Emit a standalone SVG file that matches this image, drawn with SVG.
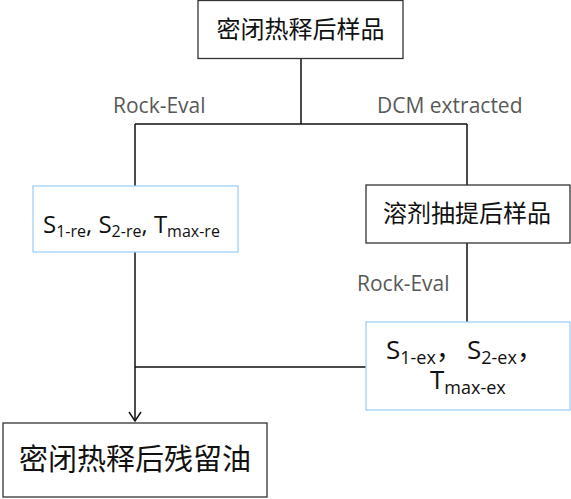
<svg xmlns="http://www.w3.org/2000/svg" width="571" height="499" viewBox="0 0 571 499">
<style>
.box{fill:#fff;stroke:#333;stroke-width:1.3}
.bbox{fill:#fff;stroke:#9dd0f5;stroke-width:1.3}
.cjk{font-family:"Noto Sans CJK SC","Noto Sans",sans-serif;fill:#111}
.lat{font-family:"Open Sans","Noto Sans",sans-serif;fill:#111}
.lbl{font-family:"Open Sans","Noto Sans",sans-serif;fill:#595959;font-size:21px}
.ln{fill:none;stroke:#111;stroke-width:1.5}
</style>
<defs>
<marker id="arr" markerWidth="14" markerHeight="14" refX="12" refY="7" orient="auto" markerUnits="userSpaceOnUse" viewBox="0 0 14 14">
<path d="M3,1 L12,7 L3,13" fill="none" stroke="#111" stroke-width="1.5"/>
</marker>
</defs>
<g id="connectors">
<path class="ln" d="M301,59 V124 M135,124 H467 M135,124 V186 M467,124 V185 M467,243 V322 M135,367 H366"/>
<path class="ln" d="M135,252 V421" marker-end="url(#arr)"/>
</g>
<g id="labels">
<text class="lbl" x="113" y="113">Rock-Eval</text>
<text class="lbl" x="377" y="113">DCM extracted</text>
<text class="lbl" x="357" y="291">Rock-Eval</text>
</g>
<g id="n1">
<rect class="box" x="198" y="0.5" width="205" height="58"/>
<text class="cjk" x="300.5" y="38" font-size="24" text-anchor="middle">密闭热释后样品</text>
</g>
<g id="n2">
<rect class="bbox" x="33" y="186" width="205" height="66"/>
<text class="lat" x="43" y="233" font-size="24">S<tspan font-size="16" dy="4">1-re</tspan><tspan dy="-4">, S</tspan><tspan font-size="16" dy="4">2-re</tspan><tspan dy="-4">, T</tspan><tspan font-size="16" dy="4">max-re</tspan></text>
</g>
<g id="n3">
<rect class="box" x="366" y="185" width="204" height="58"/>
<text class="cjk" x="467" y="222" font-size="24" text-anchor="middle">溶剂抽提后样品</text>
</g>
<g id="n4">
<rect class="bbox" x="366" y="322" width="204" height="88"/>
<text class="lat" x="386" y="359" font-size="26">S<tspan font-size="18" dy="5">1-ex</tspan><tspan dy="-5" font-family="Noto Sans CJK SC">，</tspan><tspan x="467">S</tspan><tspan font-size="18" dy="5">2-ex</tspan><tspan dy="-5" font-family="Noto Sans CJK SC">，</tspan></text>
<text class="lat" x="430" y="389" font-size="26">T<tspan font-size="18" dy="5">max-ex</tspan></text>
</g>
<g id="n5">
<rect class="box" x="3" y="423" width="264" height="74"/>
<text class="cjk" x="135" y="470" font-size="29" text-anchor="middle">密闭热释后残留油</text>
</g>
</svg>
